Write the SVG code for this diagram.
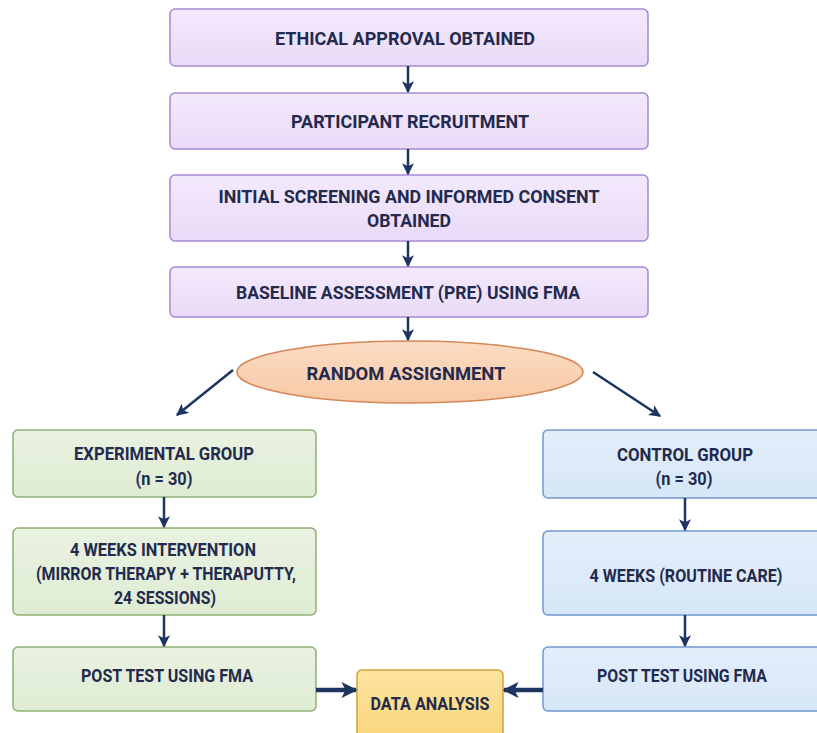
<svg xmlns="http://www.w3.org/2000/svg" width="817" height="733" viewBox="0 0 817 733">
<defs>
<linearGradient id="gP" x1="0" y1="0" x2="0" y2="1"><stop offset="0" stop-color="#f3e9fc"/><stop offset="1" stop-color="#e9daf7"/></linearGradient>
<linearGradient id="gG" x1="0" y1="0" x2="0" y2="1"><stop offset="0" stop-color="#e9f2e1"/><stop offset="1" stop-color="#dfecd4"/></linearGradient>
<linearGradient id="gB" x1="0" y1="0" x2="0" y2="1"><stop offset="0" stop-color="#e3eefa"/><stop offset="1" stop-color="#d6e6f7"/></linearGradient>
<linearGradient id="gO" x1="0" y1="0" x2="0" y2="1"><stop offset="0" stop-color="#fbdcc3"/><stop offset="1" stop-color="#f7c9a6"/></linearGradient>
<linearGradient id="gY" x1="0" y1="0" x2="0" y2="1"><stop offset="0" stop-color="#fde4a0"/><stop offset="1" stop-color="#f9d67c"/></linearGradient>
<marker id="ah" viewBox="0 0 10 10" refX="9" refY="5" markerWidth="12" markerHeight="12" markerUnits="userSpaceOnUse" orient="auto">
<path d="M0,0 L10,5 L0,10 L2.5,5 Z" fill="#1e3461"/>
</marker>
<marker id="ah2" viewBox="0 0 10 10" refX="9" refY="5" markerWidth="3.6" markerHeight="3.6" orient="auto">
<path d="M0,0 L10,5 L0,10 L2.5,5 Z" fill="#1e3461"/>
</marker>
</defs>
<style>
.p{fill:url(#gP);stroke:#a689d3;stroke-width:1.5}
.g{fill:url(#gG);stroke:#8fae72;stroke-width:1.5}
.b{fill:url(#gB);stroke:#6f98cf;stroke-width:1.5}
.o{fill:url(#gO);stroke:#d6875a;stroke-width:1.5}
.y{fill:url(#gY);stroke:#d3a03f;stroke-width:1.5}
text{font-family:Roboto,"Liberation Sans",Arial,sans-serif;font-weight:700;font-size:17.5px;fill:#232a4d;text-anchor:middle}
.c line{stroke:#1e3461;stroke-width:2.5;marker-end:url(#ah)}
.c .t{stroke-width:4.5;marker-end:url(#ah2)}
</style>
<rect width="817" height="733" fill="#ffffff"/>
<g id="n1"><rect class="p" x="170" y="9" width="478" height="57" rx="5"/><text x="405" y="45" textLength="260" lengthAdjust="spacingAndGlyphs">ETHICAL APPROVAL OBTAINED</text></g>
<g id="n2"><rect class="p" x="170" y="93" width="478" height="56" rx="5"/><text x="410" y="128" textLength="238" lengthAdjust="spacingAndGlyphs">PARTICIPANT RECRUITMENT</text></g>
<g id="n3"><rect class="p" x="170" y="175" width="478" height="66" rx="5"/><text x="409" y="203" textLength="381" lengthAdjust="spacingAndGlyphs">INITIAL SCREENING AND INFORMED CONSENT</text><text x="409" y="227" textLength="84" lengthAdjust="spacingAndGlyphs">OBTAINED</text></g>
<g id="n4"><rect class="p" x="170" y="267" width="478" height="50" rx="5"/><text x="408" y="299" textLength="344" lengthAdjust="spacingAndGlyphs">BASELINE ASSESSMENT (PRE) USING FMA</text></g>
<g id="n5"><ellipse class="o" cx="410" cy="372" rx="173" ry="31"/><text x="406" y="380" font-size="18.5" textLength="199" lengthAdjust="spacingAndGlyphs">RANDOM ASSIGNMENT</text></g>
<g id="n6"><rect class="g" x="13" y="430" width="303" height="67" rx="5"/><text x="164" y="460" textLength="180" lengthAdjust="spacingAndGlyphs">EXPERIMENTAL GROUP</text><text x="164" y="485" textLength="57" lengthAdjust="spacingAndGlyphs">(n = 30)</text></g>
<g id="n7"><rect class="g" x="13" y="528" width="303" height="87" rx="5"/><text x="163" y="556" textLength="186" lengthAdjust="spacingAndGlyphs">4 WEEKS INTERVENTION</text><text x="166" y="580" textLength="260" lengthAdjust="spacingAndGlyphs">(MIRROR THERAPY + THERAPUTTY,</text><text x="165" y="604" textLength="102" lengthAdjust="spacingAndGlyphs">24 SESSIONS)</text></g>
<g id="n8"><rect class="g" x="13" y="647" width="303" height="64" rx="5"/><text x="167" y="682" textLength="172" lengthAdjust="spacingAndGlyphs">POST TEST USING FMA</text></g>
<g id="n9"><rect class="b" x="543" y="430" width="290" height="68" rx="5"/><text x="685" y="461" textLength="136" lengthAdjust="spacingAndGlyphs">CONTROL GROUP</text><text x="684" y="485" textLength="57" lengthAdjust="spacingAndGlyphs">(n = 30)</text></g>
<g id="n10"><rect class="b" x="543" y="531" width="290" height="84" rx="5"/><text x="686" y="582" textLength="193" lengthAdjust="spacingAndGlyphs">4 WEEKS (ROUTINE CARE)</text></g>
<g id="n11"><rect class="b" x="543" y="647" width="290" height="64" rx="5"/><text x="682" y="682" textLength="170" lengthAdjust="spacingAndGlyphs">POST TEST USING FMA</text></g>
<g id="n12"><rect class="y" x="357" y="670" width="146" height="70" rx="5"/><text x="430" y="710" textLength="119" lengthAdjust="spacingAndGlyphs">DATA ANALYSIS</text></g>
<g id="connectors" class="c">
<line x1="408" y1="66" x2="408" y2="92"/>
<line x1="408" y1="149" x2="408" y2="174"/>
<line x1="408" y1="241" x2="408" y2="266"/>
<line x1="408" y1="317" x2="408" y2="340"/>
<line x1="233" y1="370" x2="177" y2="415"/>
<line x1="593" y1="372" x2="660" y2="416"/>
<line x1="164" y1="497" x2="164" y2="527"/>
<line x1="164" y1="615" x2="164" y2="646"/>
<line x1="685" y1="498" x2="685" y2="530"/>
<line x1="685" y1="615" x2="685" y2="646"/>
<line class="t" x1="316" y1="690" x2="356" y2="690"/>
<line class="t" x1="543" y1="690" x2="504" y2="690"/>
</g>
</svg>
